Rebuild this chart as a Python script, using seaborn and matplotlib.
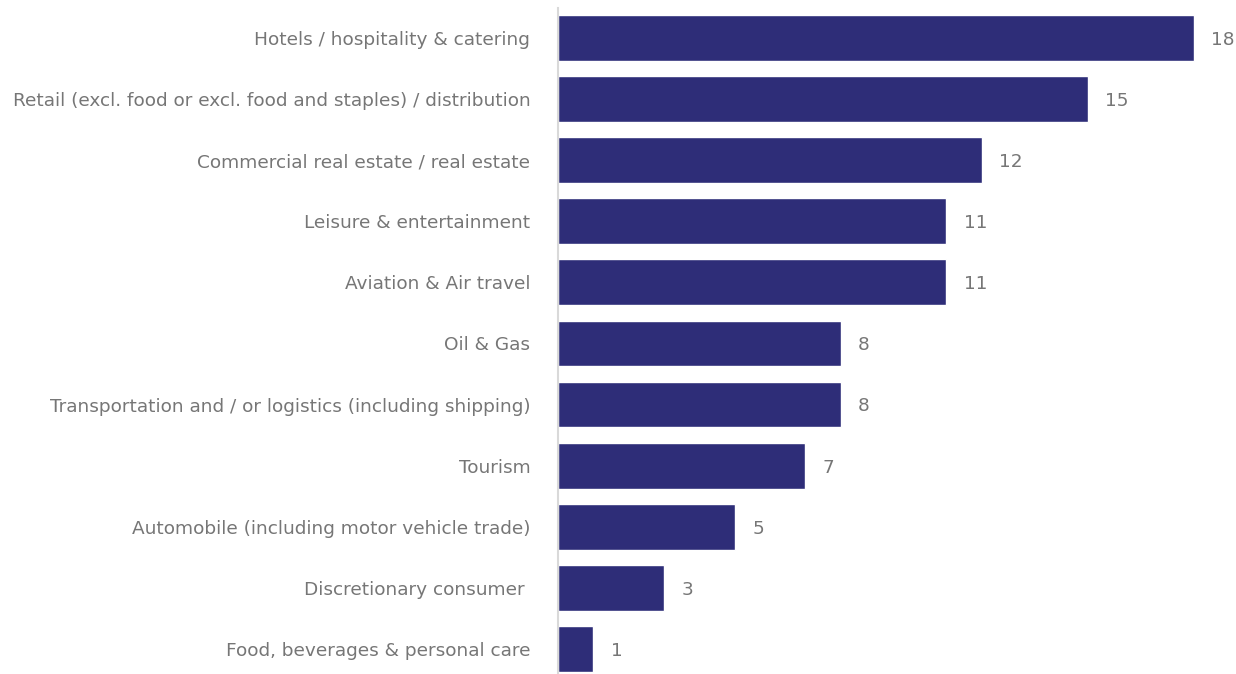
import matplotlib
matplotlib.use("Agg")
import matplotlib.pyplot as plt
import seaborn as sns
import pandas as pd

# Sectors and counts
sectors = [
    "Hotels / hospitality & catering",
    "Retail (excl. food or excl. food and staples) / distribution",
    "Commercial real estate / real estate",
    "Leisure & entertainment",
    "Aviation & Air travel",
    "Oil & Gas",
    "Transportation and / or logistics (including shipping)",
    "Tourism",
    "Automobile (including motor vehicle trade)",
    "Discretionary consumer ",
    "Food, beverages & personal care",
]
counts = [18, 15, 12, 11, 11, 8, 8, 7, 5, 3, 1]

df = pd.DataFrame({"sector": sectors, "count": counts})

sns.set_theme(style="white")
plt.rcParams["font.family"] = ["DejaVu Sans"]

fig = plt.figure(figsize=(12.36, 6.74), dpi=100)
ax = fig.add_axes([0.4515, 0.0, 0.5485, 0.988])

sns.barplot(data=df, x="count", y="sector", color="#2e2d78", width=0.75,
            saturation=1, ax=ax)

ax.set_xlim(0, 19.2)
ax.set_ylim(10.41, -0.49)
ax.set_xlabel("")
ax.set_ylabel("")
ax.set_xticks([])

for s in ["top", "right", "bottom"]:
    ax.spines[s].set_visible(False)
ax.spines["left"].set_color("#d9d9d9")
ax.spines["left"].set_linewidth(1.5)

ax.tick_params(axis="y", length=0, pad=20, labelsize=13.3, labelcolor="#767676")

for i, v in enumerate(counts):
    ax.text(v + 0.5, i + 0.03, str(v), va="center", ha="left", fontsize=13.3,
            color="#767676", clip_on=False)

fig.savefig("out.png", dpi=100)
